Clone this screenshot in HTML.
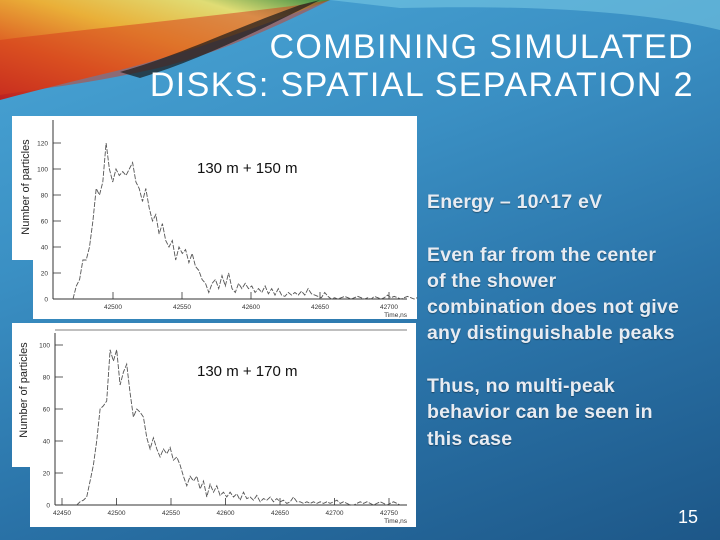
<!DOCTYPE html>
<html><head><meta charset="utf-8">
<style>
html,body{margin:0;padding:0;}
body{width:720px;height:540px;overflow:hidden;position:relative;font-family:"Liberation Sans",sans-serif;
background:linear-gradient(160deg,#4aa6d6 0%,#3a8fc3 35%,#2a73a8 65%,#1d5788 100%);}
.title{position:absolute;right:26px;top:28px;color:#fff;font-size:34px;line-height:38px;text-align:right;letter-spacing:1.4px;}
.body{position:absolute;left:427px;top:189px;color:#e8ecf2;font-weight:bold;font-size:19.5px;line-height:26.3px;letter-spacing:0.2px;text-shadow:0 1px 1px rgba(0,0,0,0.35);}
.pn{position:absolute;right:22px;bottom:12px;color:#fff;font-size:18px;}
</style></head><body>
<svg width="720" height="540" style="position:absolute;left:0;top:0">
<defs>
<linearGradient id="sw" x1="0" y1="1" x2="1" y2="0">
<stop offset="0" stop-color="#c01818"/><stop offset="0.3" stop-color="#e6621c"/><stop offset="0.55" stop-color="#f2b030"/><stop offset="0.8" stop-color="#e8e070"/><stop offset="1" stop-color="#3a8a3a"/></linearGradient>
</defs>
<path d="M0,0 L330,0 C250,30 180,55 120,70 C70,82 30,92 0,100 Z" fill="url(#sw)" opacity="0.95"/>
<path d="M0,40 C80,30 180,20 300,5 L330,0 C260,35 200,60 140,72 C80,85 30,90 0,95 Z" fill="#d63a1c" opacity="0.5"/>
<path d="M120,72 C180,55 230,30 300,5 L320,0 C260,30 200,60 140,78 Z" fill="#1a1a1a" opacity="0.7"/>
<path d="M330,0 L720,0 L720,30 C640,10 520,5 400,8 Z" fill="#7fd0e8" opacity="0.5"/>
</svg>
<div class="title">COMBINING SIMULATED<br>DISKS: SPATIAL SEPARATION 2</div>

<div style="position:absolute;left:12px;top:116px;width:24px;height:144px;background:#fff"></div>
<div style="position:absolute;left:12px;top:323px;width:22px;height:144px;background:#fff"></div>
<div style="position:absolute;left:33px;top:116px;width:384px;height:203px;background:#fff"></div>
<div style="position:absolute;left:30px;top:323px;width:386px;height:204px;background:#fff"></div>

<svg id="ch" width="720" height="540" style="position:absolute;left:0;top:0"></svg>

<div class="body">Energy – 10^17 eV<br><br>Even far from the center<br>of the shower<br>combination does not give<br>any distinguishable peaks<br><br>Thus, no multi-peak<br>behavior can be seen in<br>this case</div>
<div class="pn">15</div>

<script>
const topT0 = 42471, topBin = 2.4;
const topValues = [0,10,15,30,30,40,60,85,80,90,120,100,90,100,95,98,95,100,105,90,85,75,85,70,60,65,50,58,45,40,45,30,40,35,38,28,35,25,22,15,12,5,12,15,8,18,10,20,8,5,12,8,12,8,10,5,8,5,10,4,8,3,8,3,2,5,3,5,3,6,3,8,4,3,2,1,5,2,0,1,0,1,2,1,0,1,2,1,0,1,0,2,1,0,1,3,1,2,1,0,1,2,1,0,1];
const topYTicks = [0,20,40,60,80,100,120];
const topXTicks = [42500,42550,42600,42650,42700];
const botT0 = 42463.5, botBin = 3.06;
const botValues = [0,2,3,5,15,25,40,60,62,65,97,90,97,75,83,88,70,55,60,58,55,42,35,42,35,30,35,32,36,28,30,25,18,12,18,15,18,10,15,5,13,8,12,6,8,5,8,5,7,3,8,4,5,3,6,2,4,3,5,2,4,2,3,1,2,5,2,2,1,2,1,2,1,2,1,2,1,2,3,1,2,1,0,0,1,2,1,2,1,0,1,2,1,0,1,2,1,0];
const botYTicks = [0,20,40,60,80,100];
const botXTicks = [42450,42500,42550,42600,42650,42700,42750];

const svg = document.getElementById('ch');
const NS = 'http://www.w3.org/2000/svg';
function mk(tag, attrs, parent){const e=document.createElementNS(NS,tag);for(const k in attrs)e.setAttribute(k,attrs[k]);(parent||svg).appendChild(e);return e;}

function drawChart(cfg){
  const g = mk('g',{});
  
  
  const xs = t => cfg.x0 + (t - cfg.t0ref) * cfg.pxPerT;
  const ys = v => cfg.y0 - v * cfg.pxPerV;
  const xa = mk('line',{x1:cfg.x0axis,x2:cfg.x1axis,y1:cfg.y0,y2:cfg.y0,stroke:'#333','stroke-width':1},g);
  
  
  const ya = mk('line',{x1:cfg.x0axis,x2:cfg.x0axis,y1:cfg.y0,y2:cfg.ytop,stroke:'#333','stroke-width':1},g);
  
  
  cfg.yTicks.forEach(v=>{
    const y=ys(v);
    mk('line',{x1:cfg.x0axis,x2:cfg.x0axis+8,y1:y,y2:y,stroke:'#333','stroke-width':0.8},g);
    const t=mk('text',{x:cfg.x0axis-5,y:y+2.5,'font-size':6.5,'text-anchor':'end',fill:'#333'},g);
    t.textContent=v;
    
    
  });
  cfg.xTicks.forEach(v=>{
    const x=xs(v);
    mk('line',{x1:x,x2:x,y1:cfg.y0,y2:cfg.y0-7,stroke:'#333','stroke-width':0.8},g);
    const t=mk('text',{x:x,y:cfg.y0+10,'font-size':6.5,'text-anchor':'middle',fill:'#333'},g);
    t.textContent=v;
    
    
  });
  const xt=mk('text',{x:cfg.x1axis,y:cfg.y0+18,'font-size':6.5,'text-anchor':'end',fill:'#333'},g);
  xt.textContent='Time,ns';
  
  
  const pts = cfg.values.map((v,i)=>xs(cfg.t0+i*cfg.bin).toFixed(1)+','+ys(v).toFixed(1)).join(' ');
  const pl = mk('polyline',{points:pts,fill:'none',stroke:'#555','stroke-width':0.9,'stroke-dasharray':'5,1.5'},g);
  
  
  const lab=mk('text',{x:cfg.labX,y:cfg.labY,'font-size':15,fill:'#111'},g);
  lab.textContent=cfg.label;
  
  
  const yl=mk('text',{x:0,y:0,'font-size':11,fill:'#222','text-anchor':'middle',transform:'translate('+cfg.ylX+','+cfg.ylY+') rotate(-90)'},g);
  yl.textContent='Number of particles';
  
  
}
drawChart({name:'chart-130m-150m',values:topValues,t0:topT0,bin:topBin,yTicks:topYTicks,xTicks:topXTicks,
  x0:113,t0ref:42500,pxPerT:69/50,y0:299,pxPerV:26/20,x0axis:53,x1axis:407,ytop:120,
  label:'130 m + 150 m',labX:197,labY:173,ylX:29,ylY:187});
drawChart({name:'chart-130m-170m',values:botValues,t0:botT0,bin:botBin,yTicks:botYTicks,xTicks:botXTicks,
  x0:62,t0ref:42450,pxPerT:54.5/50,y0:505,pxPerV:1.6,x0axis:55,x1axis:407,ytop:333,
  label:'130 m + 170 m',labX:197,labY:376,ylX:27,ylY:390});
const fl=mk('line',{x1:55,x2:407,y1:330,y2:330,stroke:'#555','stroke-width':0.8});


</script>
</body></html>
